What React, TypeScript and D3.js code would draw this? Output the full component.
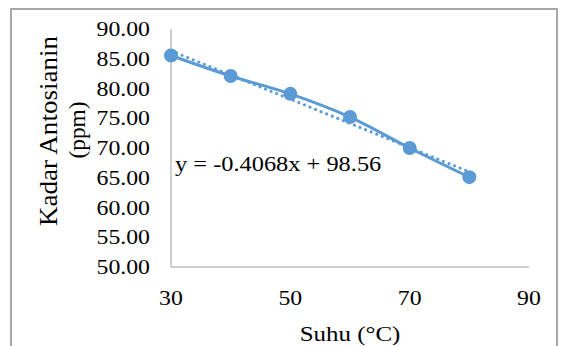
import React from "react";
import * as d3 from "d3";

const temps = [30, 40, 50, 60, 70, 80];
const anthocyanin = [85.55, 82.1, 79.1, 75.2, 70.0, 65.1];
const yTicks = [50, 55, 60, 65, 70, 75, 80, 85, 90];
const xTicks = [30, 50, 70, 90];
const equationLabel = "y = -0.4068x + 98.56";
const xTitle = "Suhu (°C)";
const yTitleLines = ["Kadar Antosianin", "(ppm)"];

const W = 563;
const H = 346;
const FONT = '"Liberation Serif", "Times New Roman", serif';
const BLUE = "#5B9BD5";
const SX = 1.16;

function STxt({ x, y, anchor = "start", size = 20.5, sx = SX, children }: any) {
  return (
    <text
      transform={`translate(${x},${y}) scale(${sx},1)`}
      textAnchor={anchor}
      fontFamily={FONT}
      fontSize={size}
      fill="#000"
    >
      {children}
    </text>
  );
}

export default function App() {
  const x = d3.scaleLinear().domain([30, 90]).range([171, 529]);
  const y = d3.scaleLinear().domain([50, 90]).range([267, 29]);

  const pts: [number, number][] = temps.map((t, i) => [t, anthocyanin[i]]);
  const line = d3
    .line<[number, number]>()
    .x((d) => x(d[0]))
    .y((d) => y(d[1]))
    .curve(d3.curveCatmullRom.alpha(0.5));

  // least squares trendline
  const mx = d3.mean(temps) as number;
  const my = d3.mean(anthocyanin) as number;
  const sxy = d3.sum(temps, (t, i) => (t - mx) * (anthocyanin[i] - my));
  const sxx = d3.sum(temps, (t) => (t - mx) * (t - mx));
  const slope = sxy / sxx;
  const intercept = my - slope * mx;
  const x0 = temps[0];
  const x1 = temps[temps.length - 1];

  return (
    <svg
      width={W}
      height={H}
      style={{ position: "absolute", left: 0, top: 0, background: "#fff" }}
    >
      <rect x={0} y={0} width={W} height={H} fill="#fff" />
      <rect x={11} y={9} width={546} height={360} fill="none" stroke="#8a8a8a" strokeWidth={1.5} />

      {/* axes */}
      <line x1={x(30)} x2={x(30)} y1={y(90)} y2={y(50)} stroke="#bfbfbf" strokeWidth={1.5} />
      <line x1={x(30)} x2={x(90)} y1={y(50)} y2={y(50)} stroke="#bfbfbf" strokeWidth={1.5} />

      {yTicks.map((v) => (
        <STxt key={v} x={150} y={y(v) + 7} anchor="end">
          {v.toFixed(2)}
        </STxt>
      ))}
      {xTicks.map((v) => (
        <STxt key={v} x={x(v)} y={305} anchor="middle">
          {v}
        </STxt>
      ))}

      {/* trendline */}
      <line
        x1={x(x0)}
        y1={y(intercept + slope * x0)}
        x2={x(x1)}
        y2={y(intercept + slope * x1)}
        stroke={BLUE}
        strokeWidth={3.2}
        strokeDasharray="0,6"
        strokeLinecap="round"
      />

      {/* series */}
      <path d={line(pts) as string} fill="none" stroke={BLUE} strokeWidth={3} />
      {pts.map((p, i) => (
        <circle key={i} cx={x(p[0])} cy={y(p[1])} r={7} fill={BLUE} />
      ))}

      <STxt x={175} y={171} sx={1.19}>
        {equationLabel}
      </STxt>

      <STxt x={350} y={341} anchor="middle" size={21.5}>
        {xTitle}
      </STxt>

      <text
        transform="translate(56.5,131) rotate(-90)"
        textAnchor="middle"
        fontFamily={FONT}
        fontSize={25}
        textLength={190}
        lengthAdjust="spacingAndGlyphs"
      >
        {yTitleLines[0]}
      </text>
      <text
        transform="translate(84.5,130) rotate(-90)"
        textAnchor="middle"
        fontFamily={FONT}
        fontSize={24}
        textLength={57}
        lengthAdjust="spacingAndGlyphs"
      >
        {yTitleLines[1]}
      </text>
    </svg>
  );
}
